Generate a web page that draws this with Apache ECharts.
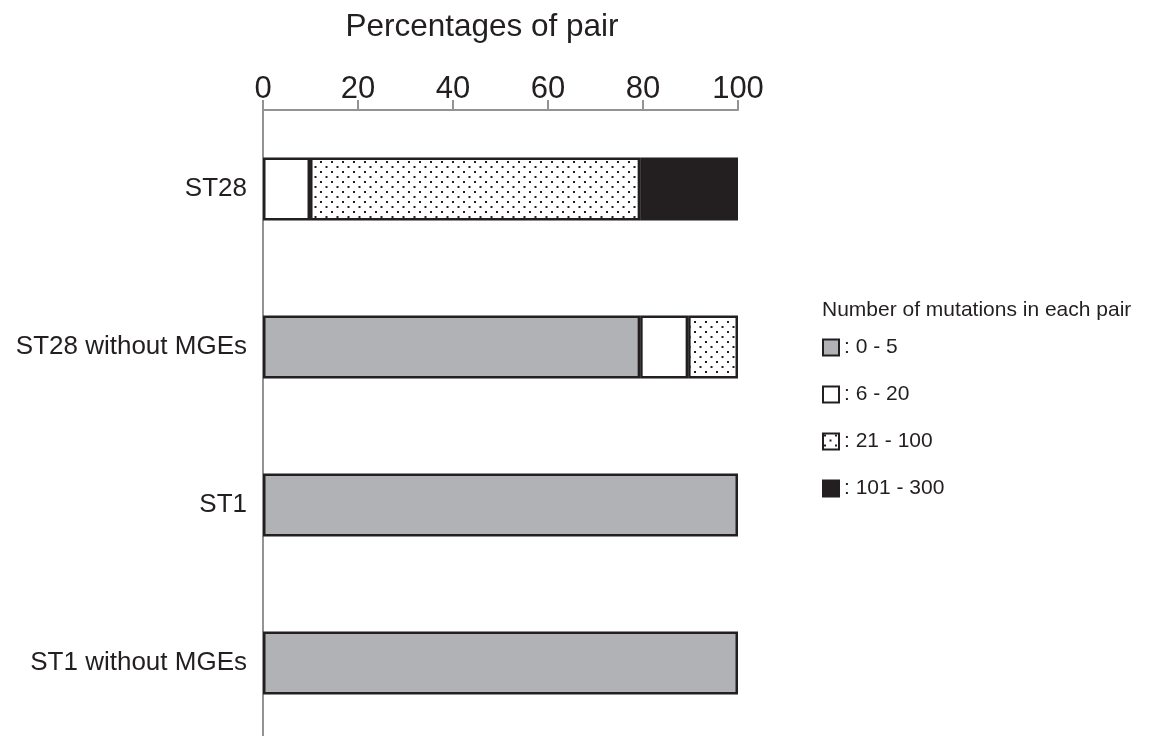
<!DOCTYPE html>
<html><head><meta charset="utf-8">
<script src="https://cdn.jsdelivr.net/npm/echarts@6/dist/echarts.min.js"></script>
<style>html,body{margin:0;padding:0;background:#fff}#c{width:1154px;height:736px}</style>
</head><body><div id="c"></div>
<script>
const categories = ['ST28', 'ST28 without MGEs', 'ST1', 'ST1 without MGEs'];
const seriesNames = ['0 - 5', '6 - 20', '21 - 100', '101 - 300'];
const v0to5 = [0, 79.4, 100, 100];
const v6to20 = [9.9, 10.1, 0, 0];
const v21to100 = [69.5, 10.5, 0, 0];
const v101to300 = [20.6, 0, 0, 0];
const xTicks = [0, 20, 40, 60, 80, 100];

const FONT = 'Liberation Sans, Arial, sans-serif';
const INK = '#231f20';

function dotPattern() {
  const c = document.createElement('canvas');
  c.width = 11; c.height = 10;
  const g = c.getContext('2d');
  g.fillStyle = '#fff'; g.fillRect(0, 0, 11, 10);
  g.fillStyle = INK;
  g.fillRect(1, 1, 2, 2);
  g.fillRect(6.5, 6, 2, 2);
  return { image: c, repeat: 'repeat' };
}

const fills = ['#b1b2b6', '#ffffff', dotPattern(), INK];
const values = [v0to5, v6to20, v21to100, v101to300];

const chart = echarts.init(document.getElementById('c'));
chart.setOption({
  animation: false,
  backgroundColor: '#fff',
  title: [{
    text: 'Number of mutations in each pair',
    left: 822, top: 300, padding: 0,
    textStyle: { fontFamily: FONT, fontSize: 21, fontWeight: 'normal', color: INK }
  }],
  legend: {
    orient: 'vertical',
    left: 822, top: 337, padding: 0,
    itemWidth: 16, itemHeight: 16, itemGap: 26,
    icon: 'rect',
    data: seriesNames,
    formatter: n => ': ' + n,
    textStyle: { fontFamily: FONT, fontSize: 21, lineHeight: 20, color: INK }
  },
  grid: { left: 263, right: 416, top: 110, bottom: -6, containLabel: false, outerBoundsMode: 'none' },
  xAxis: {
    type: 'value', position: 'top', min: 0, max: 100, interval: 20,
    name: 'Percentages of pair', nameLocation: 'middle', nameGap: 67, nameMoveOverlap: false,
    nameTextStyle: { fontFamily: FONT, fontSize: 31.5, color: INK, padding: [0, 37, 0, 0] },
    axisLine: { show: true, lineStyle: { color: '#939393', width: 2 } },
    axisTick: { show: true, length: 10, lineStyle: { color: '#939393', width: 2 } },
    axisLabel: { fontFamily: FONT, fontSize: 31, color: INK, margin: 5,
      formatter: v => xTicks.includes(v) ? String(v) : '' },
    splitLine: { show: false }
  },
  yAxis: {
    type: 'category', data: categories, inverse: true,
    axisLine: { show: true, lineStyle: { color: '#939393', width: 2 } },
    axisTick: { show: false },
    axisLabel: { fontFamily: FONT, fontSize: 26, color: INK, margin: 16 }
  },
  series: seriesNames.map((name, i) => ({
    name, type: 'bar', stack: 'total', barWidth: 63,
    itemStyle: { color: fills[i], borderColor: INK, borderWidth: 2.5 },
    data: values[i].map(v => v === 0 ? '-' : v)
  }))
});
</script>
</body></html>
